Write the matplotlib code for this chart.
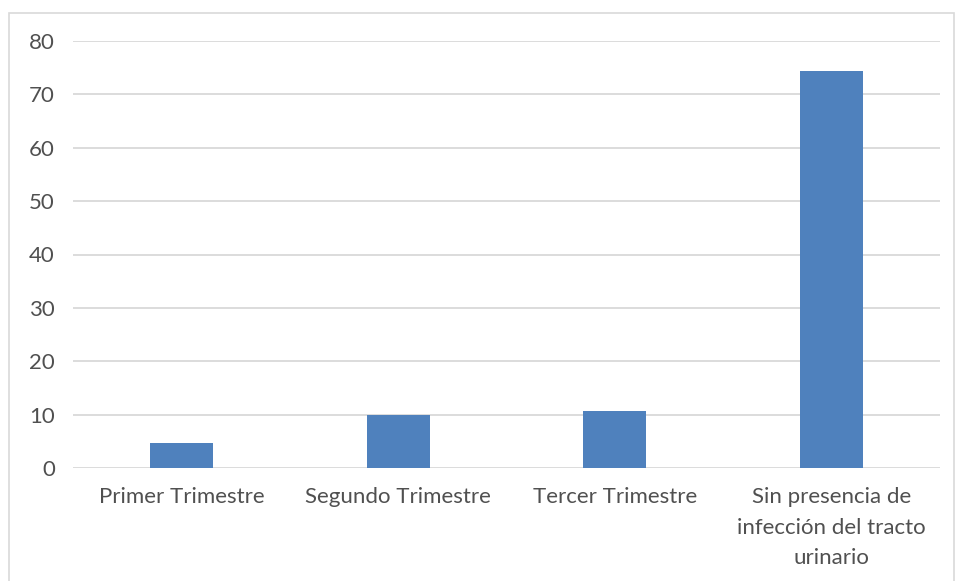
import matplotlib.pyplot as plt
import matplotlib.patches as mpatches
import numpy as np

plt.rcParams['font.family'] = ['Lato', 'DejaVu Sans']

categorias = ['Primer Trimestre', 'Segundo Trimestre', 'Tercer Trimestre',
              'Sin presencia de\ninfección del tracto\nurinario']
valores = [4.7, 10.0, 10.75, 74.4]
yticks = [0, 10, 20, 30, 40, 50, 60, 70, 80]

W, H = 955, 581
fig = plt.figure(figsize=(W / 100, H / 100), dpi=100)
ax = fig.add_axes([73 / W, 1 - 468 / H, (940 - 73) / W, (468 - 41) / H])

x = np.arange(len(categorias))
ax.bar(x, valores, width=0.29, color='#4f81bd', zorder=3)

ax.set_xlim(-0.5, len(categorias) - 0.5)
ax.set_ylim(0, 80)
ax.set_yticks(yticks)
ax.set_xticks(x)
ax.set_xticklabels(categorias, linespacing=1.65)
ax.grid(axis='y', color='#d9d9d9', linewidth=1.3, zorder=0)
for s in ax.spines.values():
    s.set_visible(False)
ax.tick_params(length=0, labelsize=16, labelcolor='#505050')
ax.tick_params(axis='y', pad=13)
ax.tick_params(axis='x', pad=14)

# marco del grafico
fig.patches.append(mpatches.Rectangle((9 / W, -0.01), 0.99, 1 - 13 / H + 0.01,
                                      transform=fig.transFigure, fill=False,
                                      edgecolor='#d9d9d9', linewidth=1.2))

fig.savefig('out.png', dpi=100)
